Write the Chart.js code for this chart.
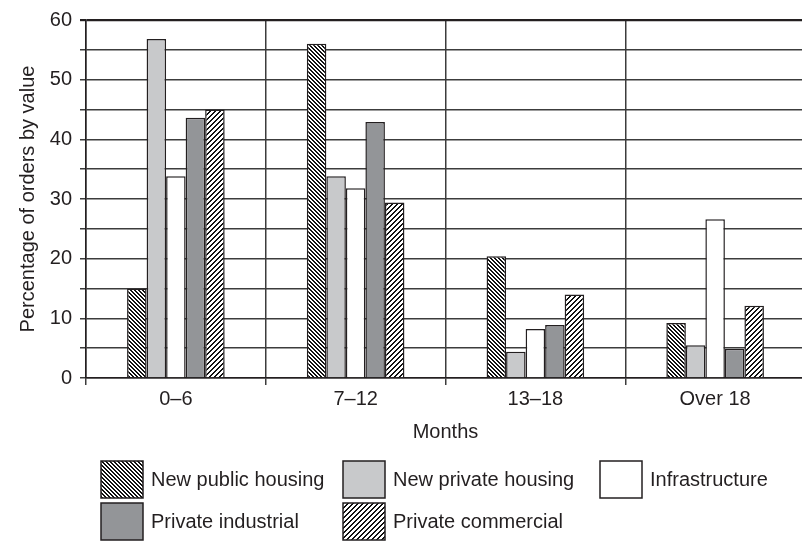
<!DOCTYPE html>
<html>
<head>
<meta charset="utf-8">
<script src="https://cdn.jsdelivr.net/npm/chart.js@4"></script>
<style>
  html, body { margin: 0; padding: 0; background: #ffffff; overflow: hidden; }
  canvas { display: block; }
</style>
</head>
<body>
<canvas id="chart" width="805" height="541"></canvas>
<script>
// Share of orders (by value) falling in each lead-time band
const categories = ['0–6', '7–12', '13–18', 'Over 18'];
const newPublicHousing  = [15.0, 56.0, 20.4, 9.2];
const newPrivateHousing = [56.8, 33.8, 4.4, 5.5];
const infrastructure    = [33.8, 31.8, 8.2, 26.6];
const privateIndustrial = [43.6, 42.9, 8.9, 4.9];
const privateCommercial = [45.0, 29.4, 14.0, 12.1];
const seriesNames = ['New public housing', 'New private housing', 'Infrastructure',
                     'Private industrial', 'Private commercial'];

const INK = '#231f20';
const GRID = '#3c3c3c';
const FONT = '"Liberation Sans", Arial, Helvetica, sans-serif';

// Pixel-exact diagonal hatch: dir 1 = "\" lines, dir -1 = "/" lines
function hatch(dir, period, thick) {
  const c = document.createElement('canvas');
  c.width = period; c.height = period;
  const g = c.getContext('2d');
  const img = g.createImageData(period, period);
  for (let y = 0; y < period; y++) {
    for (let x = 0; x < period; x++) {
      const k = dir > 0 ? x - y : x + y;
      const on = ((k % period) + period) % period < thick;
      const v = on ? 17 : 255;
      const p = (y * period + x) * 4;
      img.data[p] = v; img.data[p + 1] = v; img.data[p + 2] = v; img.data[p + 3] = 255;
    }
  }
  g.putImageData(img, 0, 0);
  return g.createPattern(c, 'repeat');
}

const fills = [
  hatch(1, 4, 2),
  '#c8c9cb',
  '#ffffff',
  '#939598',
  hatch(-1, 5, 2)
];
const values = [newPublicHousing, newPrivateHousing, infrastructure, privateIndustrial, privateCommercial];

// Legend laid out in three aligned columns under the axis title
const gridLegend = {
  id: 'gridLegend',
  afterDraw(chart) {
    const ctx = chart.ctx;
    const cols = [101, 343, 600];
    const rows = [461, 503];
    const sw = 42, sh = 37;
    chart.data.datasets.forEach((ds, i) => {
      const x = cols[i % 3];
      const y = rows[Math.floor(i / 3)];
      ctx.save();
      ctx.fillStyle = ds.backgroundColor;
      ctx.fillRect(x, y, sw, sh);
      ctx.strokeStyle = INK;
      ctx.lineWidth = 1.5;
      ctx.strokeRect(x, y, sw, sh);
      ctx.fillStyle = INK;
      ctx.font = '20px ' + FONT;
      ctx.textBaseline = 'middle';
      ctx.textAlign = 'left';
      ctx.fillText(ds.label, x + sw + 8, y + sh / 2 + 1);
      ctx.restore();
    });
  }
};

Chart.defaults.font.family = FONT;
Chart.defaults.font.size = 20;
Chart.defaults.color = INK;

new Chart(document.getElementById('chart'), {
  type: 'bar',
  data: {
    labels: categories,
    datasets: seriesNames.map((name, i) => ({
      label: name,
      data: values[i],
      backgroundColor: fills[i],
      borderColor: INK,
      borderWidth: 1.5,
      barPercentage: 1.0,
      categoryPercentage: 0.543
    }))
  },
  options: {
    responsive: false,
    animation: false,
    events: [],
    layout: { padding: { left: 0, right: 0, top: 20, bottom: 95 } },
    plugins: {
      legend: { display: false },
      tooltip: { enabled: false }
    },
    scales: {
      x: {
        grid: { offset: true, color: GRID, lineWidth: 1.5, tickLength: 7 },
        border: { color: INK, width: 1.5 },
        ticks: { padding: 2, color: INK, font: { size: 20 }, maxRotation: 0 },
        title: { display: true, text: 'Months', color: INK, font: { size: 20 }, padding: { top: 0, bottom: 2 } },
        afterFit(scale) { scale.height = 68; }
      },
      y: {
        min: 0,
        max: 60,
        ticks: {
          stepSize: 5,
          padding: 8,
          color: INK,
          font: { size: 20 },
          callback: v => (v % 10 === 0 ? v : '')
        },
        grid: {
          color: c => (c.tick && c.tick.value === 60 ? INK : GRID),
          lineWidth: c => (c.tick && c.tick.value === 60 ? 2.2 : 1.5),
          tickLength: 6
        },
        border: { color: INK, width: 1.5 },
        title: { display: true, text: 'Percentage of orders by value', color: INK, font: { size: 20 }, padding: { top: 16, bottom: 0 } },
        afterFit(scale) { scale.width = 86; }
      }
    }
  },
  plugins: [gridLegend]
});
</script>
</body>
</html>
